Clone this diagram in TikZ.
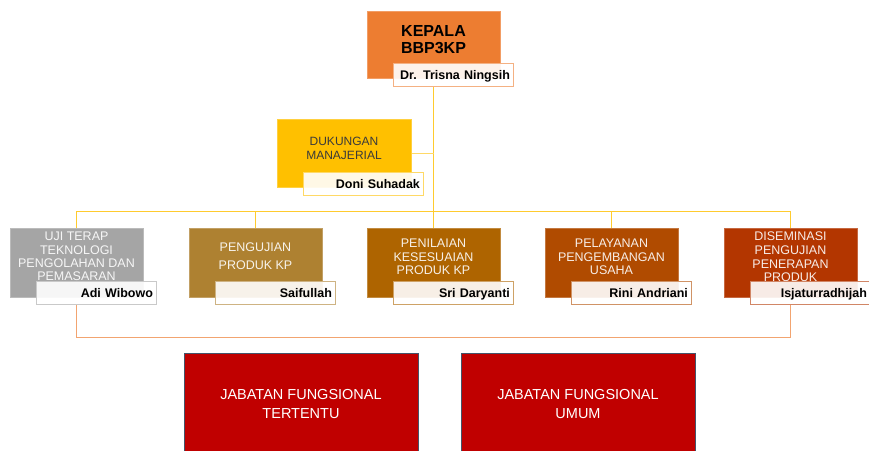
\documentclass[tikz,border=0pt]{standalone}
\usepackage{fontspec}
\setmainfont{Liberation Sans}
\usetikzlibrary{backgrounds}
\definecolor{ckep}{HTML}{ED7D31}
\definecolor{cduk}{HTML}{FFC000}
\definecolor{cuji}{HTML}{A5A5A5}
\definecolor{cpeng}{HTML}{AE8131}
\definecolor{cpen}{HTML}{AE6400}
\definecolor{cpel}{HTML}{B04B00}
\definecolor{cdis}{HTML}{B33600}
\definecolor{cjf}{HTML}{C00000}
\definecolor{cjfb}{HTML}{44546A}
\definecolor{lnyel}{HTML}{FFCB2E}
\definecolor{lnduk}{HTML}{FFD966}
\definecolor{lnorg}{HTML}{F2A470}
\definecolor{dukt}{HTML}{3A3A3A}
\tikzset{
  mbox/.style={fill=#1, draw=#1!75!white, line width=0.5pt, minimum width=133pt,
    minimum height=69pt, inner sep=0pt, anchor=north west},
  namebox/.style={fill=white, fill opacity=0.9, text opacity=1, draw=#1!60!white,
    line width=0.8pt, minimum width=120pt, minimum height=23pt, text width=113pt,
    inner xsep=3.5pt, inner ysep=0pt, align=right,
    font=\fontsize{12.5}{14}\selectfont\bfseries, text height=9pt, text depth=0pt,
    anchor=north west},
  ltxt/.style={align=center, inner sep=0pt, text=white, text opacity=0.9,
    font=\fontsize{12.5}{#1}\selectfont},
  jfbox/.style={fill=cjf, draw=cjfb, line width=0.6pt, minimum width=234pt,
    minimum height=102pt, inner sep=0pt, anchor=north west},
  jftxt/.style={align=center, inner sep=0pt, text=white,
    font=\fontsize{14.5}{18.3}\selectfont},
  yl/.style={draw=lnyel, line width=1pt},
  ylduk/.style={draw=lnduk, line width=1.3pt},
  orl/.style={draw=lnorg, line width=1pt}
}
\begin{document}
\begin{tikzpicture}[x=1pt,y=-1pt]
\useasboundingbox (0,0) rectangle (869,450);
% top
\node[mbox=ckep, minimum height=67pt] (kep) at (367,11) {};
\node[align=center, inner sep=0pt, font=\fontsize{16}{16.7}\selectfont\bfseries]
  (keptxt) at (433.5,39.5) {KEPALA\\BBP3KP};
\node[namebox=ckep] (kname) at (393,63) {Dr. Trisna Ningsih};
% dukungan
\node[mbox=cduk, minimum width=134pt, minimum height=68pt] (duk) at (277,119) {};
\node[align=center, inner sep=0pt, text=dukt, font=\fontsize{12}{13.3}\selectfont]
  (duktxt) at (344,148.3) {DUKUNGAN\\MANAJERIAL};
\node[namebox=cduk, draw=lnduk] (dname) at (303,172) {Doni Suhadak};
% level 2
\node[mbox=cuji] (uji) at (10,228) {};
\node[mbox=cpeng] (peng) at (189,228) {};
\node[mbox=cpen] (pen) at (367,228) {};
\node[mbox=cpel] (pel) at (545,228) {};
\node[mbox=cdis] (dis) at (724,228) {};
\node[ltxt=13.3] (ujitxt) at (76.5,256.5) {UJI TERAP\\TEKNOLOGI\\PENGOLAHAN DAN\\PEMASARAN};
\node[ltxt=18] (pengtxt) at (255.5,256.5) {PENGUJIAN\\PRODUK KP};
\node[ltxt=13.3] (pentxt) at (433.5,257) {PENILAIAN\\KESESUAIAN\\PRODUK KP};
\node[ltxt=13.3] (peltxt) at (611.5,257) {PELAYANAN\\PENGEMBANGAN\\USAHA};
\node[ltxt=13.7] (distxt) at (790.5,257) {DISEMINASI\\PENGUJIAN\\PENERAPAN\\PRODUK};
\node[namebox=cuji] (uname) at (36,281) {Adi Wibowo};
\node[namebox=cpeng] (pgname) at (215,281) {Saifullah};
\node[namebox=cpen] (pnname) at (393,281) {Sri Daryanti};
\node[namebox=cpel] (plname) at (571,281) {Rini Andriani};
\node[namebox=cdis] (dname2) at (750,281) {Isjaturradhijah};
% bottom
\node[jfbox] (jft) at (184,353) {};
\node[jfbox] (jfu) at (461,353) {};
\node[jftxt] (jfttxt) at (301,404) {JABATAN FUNGSIONAL\\TERTENTU};
\node[jftxt] (jfutxt) at (578,404) {JABATAN FUNGSIONAL\\UMUM};
% connectors
\begin{scope}[on background layer]
\draw[yl] (kname.south -| kep.south) -- (pen.north);
\draw[ylduk] (duk.east) -- (duk.east -| kep.south);
\draw[yl] (uji.north) -- ++(0,-17) -| (dis.north);
\draw[yl] (peng.north) -- ++(0,-17);
\draw[yl] (pel.north) -- ++(0,-17);
\draw[orl] (uname.south -| uji.south) -- ++(0,33) -| (dname2.south -| dis.south);
\end{scope}
\end{tikzpicture}
\end{document}
